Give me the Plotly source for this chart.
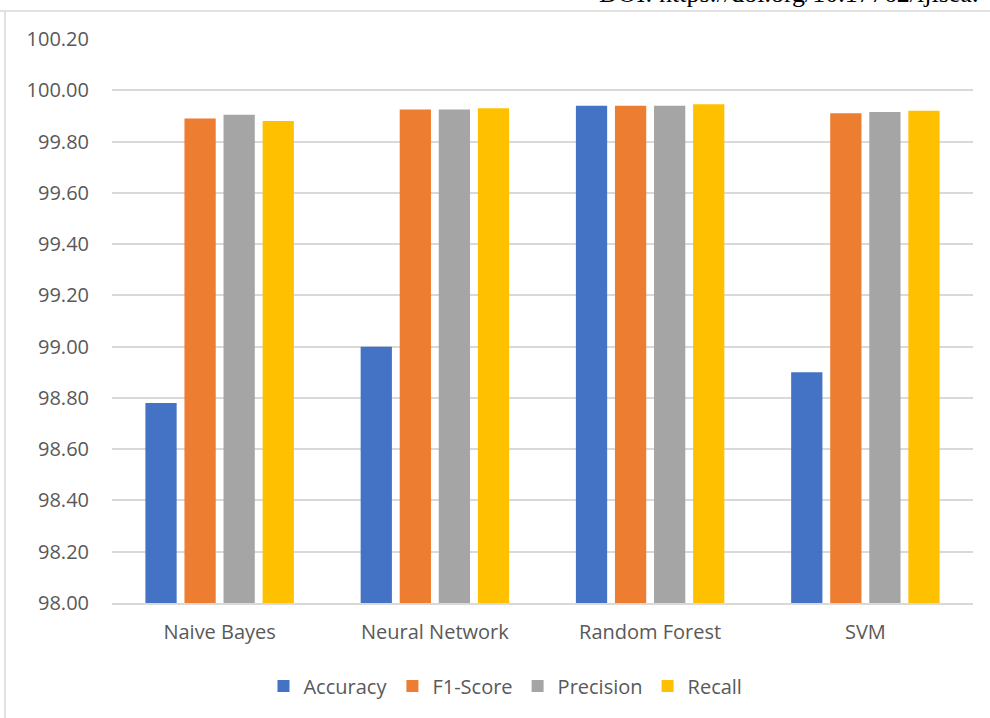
import plotly.graph_objects as go

categories = ["Naive Bayes", "Neural Network", "Random Forest", "SVM"]
accuracy = [98.78, 99.00, 99.94, 98.90]
f1_score = [99.89, 99.925, 99.94, 99.91]
precision = [99.905, 99.925, 99.94, 99.915]
recall = [99.88, 99.93, 99.945, 99.92]
series_names = ["Accuracy", "F1-Score", "Precision", "Recall"]
colors = ["#4472C4", "#ED7D31", "#A5A5A5", "#FFC000"]
tick_vals = [98.0, 98.2, 98.4, 98.6, 98.8, 99.0, 99.2, 99.4, 99.6, 99.8, 100.0, 100.2]
tick_text = [f"{v:.2f}" for v in tick_vals]

FONT = "Open Sans"
W, H = 990, 718
L, R, T, B = 112, 17, 39, 115

fig = go.Figure()
for name, vals, col in zip(series_names, [accuracy, f1_score, precision, recall], colors):
    fig.add_trace(go.Bar(
        x=categories, y=vals, name=name,
        marker=dict(color=col, line=dict(width=0)),
    ))

pw = W - L - R
ph = H - T - B
def px_to_paper_x(px):
    return (px - L) / pw
def px_to_paper_y(py):
    return (H - B - py) / ph

fig.update_layout(
    width=W, height=H,
    margin=dict(l=L, r=R, t=T, b=B, pad=0),
    paper_bgcolor="white", plot_bgcolor="white",
    barmode="group", bargap=0.274, bargroupgap=0.2,
    font=dict(family=FONT, size=20, color="#595959"),
    xaxis=dict(showgrid=False, showline=True, linecolor="#D9D9D9", linewidth=1.5,
               ticks="", tickfont=dict(size=20, color="#595959"), ticklabelstandoff=10),
    yaxis=dict(range=[98.0, 100.2], tickvals=tick_vals, ticktext=tick_text,
               showgrid=True, gridcolor="#D9D9D9", gridwidth=1.5, zeroline=False,
               showline=False, ticks="", tickfont=dict(size=20, color="#595959"),
               ticklabelstandoff=22),
    legend=dict(orientation="h", x=0.457, xanchor="center", y=px_to_paper_y(686), yanchor="middle",
                font=dict(size=20, color="#595959"), itemsizing="constant",
                traceorder="normal", itemwidth=30, tracegroupgap=0),
    showlegend=True,
    shapes=[
        dict(type="line", xref="paper", yref="paper",
             x0=px_to_paper_x(5), x1=px_to_paper_x(5), y0=px_to_paper_y(11), y1=px_to_paper_y(720),
             line=dict(color="#D9D9D9", width=1.5)),
        dict(type="line", xref="paper", yref="paper",
             x0=px_to_paper_x(0), x1=px_to_paper_x(992), y0=px_to_paper_y(11), y1=px_to_paper_y(11),
             line=dict(color="#D9D9D9", width=1.5)),
    ],
    annotations=[
        dict(text="DOI: https://doi.org/10.17762/ijisea.", xref="paper", yref="paper",
             x=px_to_paper_x(597), xanchor="left", y=px_to_paper_y(10), yanchor="bottom",
             showarrow=False, font=dict(family="Liberation Serif", size=26, color="black")),
    ],
)

fig.write_html("out.html")
